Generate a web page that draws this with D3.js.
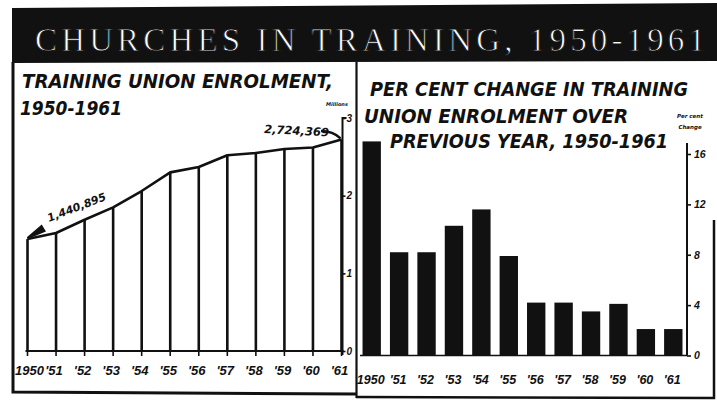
<!DOCTYPE html>
<meta charset="utf-8">
<style>
body{ margin:0; background:#fff; }
svg text{ font-family: "DejaVu Sans", sans-serif; font-weight:bold; font-style:italic; fill:#111; }
svg text.tk{ font-family: "Liberation Sans", sans-serif; }
</style>
<body>
<script src="https://d3js.org/d3.v7.min.js"></script>
<script>

// data
var years = ["1950", "'51", "'52", "'53", "'54", "'55", "'56", "'57", "'58", "'59", "'60", "'61"];
var enrolment = [1.440895, 1.52, 1.69, 1.85, 2.06, 2.30, 2.37, 2.52, 2.55, 2.60, 2.62, 2.724369]; // millions
var pctChange = [17.0, 8.2, 8.2, 10.3, 11.6, 7.9, 4.2, 4.2, 3.5, 4.1, 2.1, 2.1];
var enrolTicks = [0, 1, 2, 3];
var pctTicks = [0, 4, 8, 12, 16];

var width = 717, height = 402, ink = "#111";

var svg = d3.select("body").append("svg")
    .attr("width", width)
    .attr("height", height);

// ---- banner ----
svg.append("path")
    .attr("d", "M12,8 L717,3 L717,61 L12,63 Z")
    .attr("fill", ink);
svg.append("text")
    .attr("x", 35).attr("y", 51)
    .attr("textLength", 670)
    .attr("lengthAdjust", "spacing")
    .style("font-family", "'Liberation Serif', serif")
    .style("font-style", "normal")
    .style("font-weight", "normal")
    .style("font-size", "33px")
    .style("fill", "#fff")
    .style("stroke", ink)
    .style("stroke-width", "0.9px")
    .text("CHURCHES IN TRAINING, 1950-1961");

// ---- panel frames ----
var frame = svg.append("g").attr("stroke", ink).attr("fill", "none");
frame.append("path").attr("d", "M13,62 L13,392 L356,394").attr("stroke-width", 3);
frame.append("path").attr("d", "M356.5,62 L356.5,398").attr("stroke-width", 2.2);
frame.append("path").attr("d", "M356,397 L714,398 L714,220").attr("stroke-width", 2.5);

// ---- left chart: enrolment ----
var xL = d3.scalePoint().domain(years).range([27.5, 341.5]);
var yL = d3.scaleLinear().domain([0, 3]).range([351, 118]);

var left = svg.append("g");

left.selectAll(".stem")
    .data(enrolment)
  .enter().append("line")
    .attr("x1", function(d, i) { return xL(years[i]); })
    .attr("x2", function(d, i) { return xL(years[i]); })
    .attr("y1", yL(0))
    .attr("y2", function(d) { return yL(d); })
    .attr("stroke", ink)
    .attr("stroke-width", 2.6);

left.append("path")
    .datum(enrolment)
    .attr("fill", "none")
    .attr("stroke", ink)
    .attr("stroke-width", 2.6)
    .attr("stroke-linejoin", "round")
    .attr("d", d3.line()
        .x(function(d, i) { return xL(years[i]); })
        .y(function(d) { return yL(d); }));

// baseline with little ticks under each stem
left.append("line")
    .attr("x1", xL(years[0]) - 2).attr("x2", xL(years[11]) + 2)
    .attr("y1", yL(0)).attr("y2", yL(0))
    .attr("stroke", ink).attr("stroke-width", 2);
left.selectAll(".btick")
    .data(years)
  .enter().append("line")
    .attr("x1", function(d) { return xL(d); })
    .attr("x2", function(d) { return xL(d); })
    .attr("y1", yL(0)).attr("y2", yL(0) + 5)
    .attr("stroke", ink).attr("stroke-width", 1.6);

left.selectAll(".xlab")
    .data(years)
  .enter().append("text")
    .attr("class", "tk")
    .attr("x", function(d, i) { return xL(d) + (i == 0 ? 2 : -2); })
    .attr("y", 375)
    .style("text-anchor", "middle")
    .style("font-size", "13px")
    .text(function(d) { return d; });

// right-hand millions axis
var axL = left.append("g")
    .attr("transform", "translate(" + (xL(years[11]) + 1) + ",0)")
    .call(d3.axisRight(yL).tickValues(enrolTicks).tickSize(3).tickPadding(1).tickFormat(d3.format("d")));
axL.select(".domain").attr("stroke", ink).attr("stroke-width", 2)
    .attr("d", "M4," + yL(3) + "H0V" + (yL(0) + 4));
axL.selectAll(".tick line").attr("stroke", ink).attr("stroke-width", 1.6);
axL.selectAll(".tick text")
    .style("font-family", "'Liberation Sans', sans-serif")
    .style("font-size", "10px").style("font-weight", "bold").style("font-style", "italic")
    .attr("fill", ink);

left.append("text")
    .attr("x", 337).attr("y", 106)
    .style("text-anchor", "middle")
    .style("font-size", "5px")
    .text("Millions");

// annotations
var p0 = [xL(years[0]), yL(enrolment[0])];
left.append("path")
    .attr("d", "M" + p0[0] + "," + (p0[1] - 1) + " L" + (p0[0] + 14) + "," + (p0[1] - 13) +
               " L" + (p0[0] + 17) + "," + (p0[1] - 8) + " Z")
    .attr("fill", ink).attr("stroke", ink).attr("stroke-width", 2);
left.append("text")
    .attr("transform", "translate(49,222) rotate(-21)")
    .style("font-size", "11px")
    .text("1,440,895");

var p1 = [xL(years[11]), yL(enrolment[11])];
left.append("text")
    .attr("transform", "translate(264,133) rotate(3)")
    .style("font-size", "11.5px")
    .text("2,724,369");
left.append("path")
    .attr("d", "M321,131 Q333,131 " + (p1[0] - 1) + "," + (p1[1] - 1))
    .attr("fill", "none").attr("stroke", ink).attr("stroke-width", 2.4);

left.append("text").attr("x", 22).attr("y", 88)
    .attr("textLength", 311).attr("lengthAdjust", "spacingAndGlyphs")
    .style("font-size", "19px")
    .text("TRAINING UNION ENROLMENT,");
left.append("text").attr("x", 20).attr("y", 115)
    .attr("textLength", 102).attr("lengthAdjust", "spacingAndGlyphs")
    .style("font-size", "19px")
    .text("1950-1961");

// ---- right chart: per cent change ----
var xR = d3.scaleBand().domain(years).range([358, 687]).paddingInner(0.33).paddingOuter(0.165);
var yR = d3.scaleLinear().domain([0, 16]).range([355.5, 154]);

var right = svg.append("g");

right.selectAll(".bar")
    .data(pctChange)
  .enter().append("rect")
    .attr("x", function(d, i) { return xR(years[i]); })
    .attr("width", xR.bandwidth())
    .attr("y", function(d) { return yR(d); })
    .attr("height", function(d) { return yR(0) - yR(d); })
    .attr("fill", ink);

right.append("line")
    .attr("x1", 360).attr("x2", 687)
    .attr("y1", yR(0)).attr("y2", yR(0))
    .attr("stroke", ink).attr("stroke-width", 1.6);

right.selectAll(".xlab")
    .data(years)
  .enter().append("text")
    .attr("class", "tk")
    .attr("x", function(d) { return xR(d) + xR.bandwidth() / 2 - 1; })
    .attr("y", 384)
    .style("text-anchor", "middle")
    .style("font-size", "12.5px")
    .text(function(d) { return d; });

var axR = right.append("g")
    .attr("transform", "translate(687,0)")
    .call(d3.axisRight(yR).tickValues(pctTicks).tickSize(4).tickPadding(3).tickFormat(d3.format("d")));
axR.select(".domain").attr("stroke", ink).attr("stroke-width", 2)
    .attr("d", "M0,143V" + yR(0));
axR.selectAll(".tick line").attr("stroke", ink).attr("stroke-width", 1.6);
axR.selectAll(".tick text")
    .style("font-family", "'Liberation Sans', sans-serif")
    .style("font-size", "10.5px").style("font-weight", "bold").style("font-style", "italic")
    .attr("fill", ink);

right.append("text").attr("x", 690).attr("y", 118)
    .style("text-anchor", "middle").style("font-size", "5.5px").text("Per cent");
right.append("text").attr("x", 690).attr("y", 129)
    .style("text-anchor", "middle").style("font-size", "5.5px").text("Change");

right.append("text").attr("x", 370).attr("y", 96)
    .attr("textLength", 318).attr("lengthAdjust", "spacingAndGlyphs")
    .style("font-size", "19px")
    .text("PER CENT CHANGE IN TRAINING");
right.append("text").attr("x", 364).attr("y", 123)
    .attr("textLength", 264).attr("lengthAdjust", "spacingAndGlyphs")
    .style("font-size", "19px")
    .text("UNION ENROLMENT OVER");
right.append("text").attr("x", 390).attr("y", 148)
    .attr("textLength", 278).attr("lengthAdjust", "spacingAndGlyphs")
    .style("font-size", "19px")
    .text("PREVIOUS YEAR, 1950-1961");

</script>
